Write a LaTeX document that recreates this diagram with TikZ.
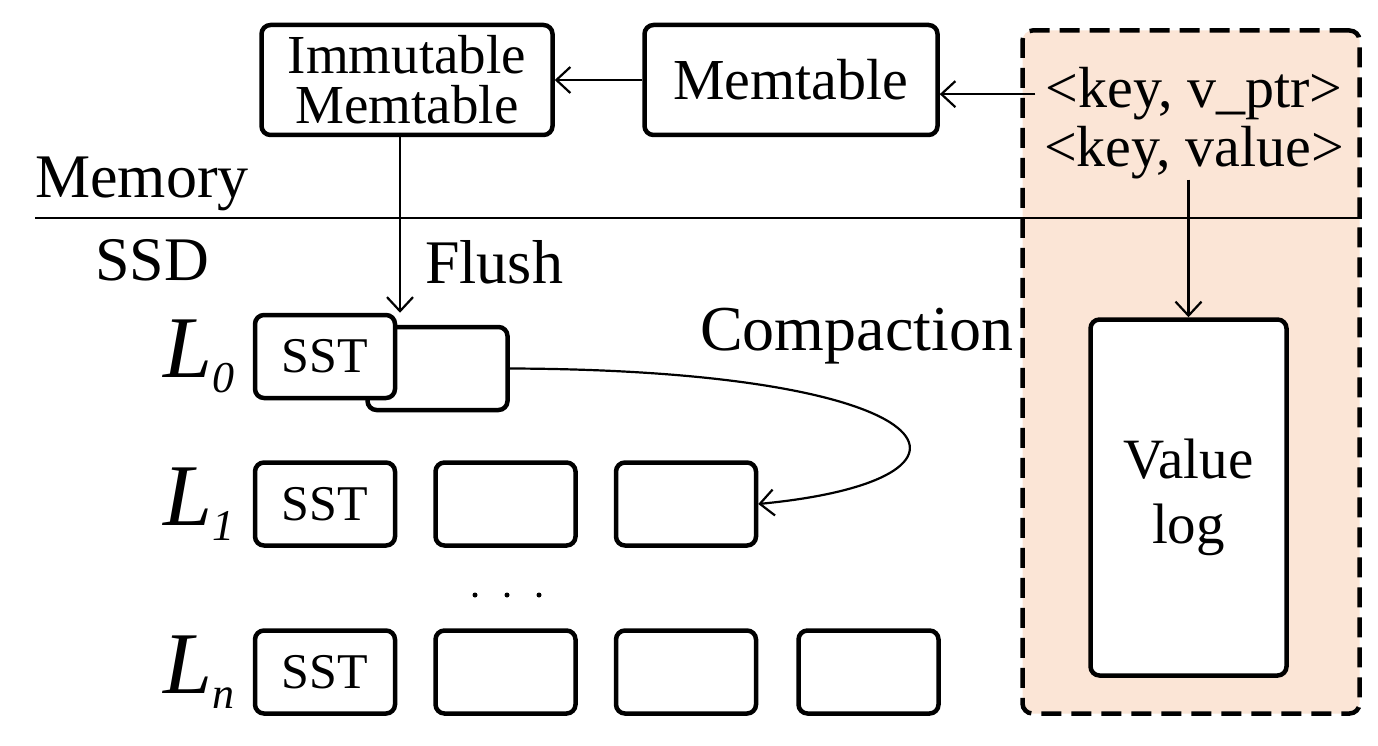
\documentclass[tikz,border=0pt]{standalone}
\usepackage{fontspec}
\setmainfont{Liberation Serif}
\usetikzlibrary{positioning,arrows.meta}
\definecolor{peach}{HTML}{FBE5D6}
\newcommand{\lev}[1]{\textit{L\raisebox{-15pt}{\fontsize{44}{44}\selectfont #1}}}

\begin{document}
\begin{tikzpicture}[x=1pt, y=-1pt, >={Straight Barb[length=14pt,width=26pt]},
  box/.style={draw, line width=4.5pt, rounded corners=9pt, fill=white, inner sep=0pt},
  sst/.style={box, minimum width=140pt, minimum height=83pt, font=\fontsize{50}{50}\selectfont},
  lbl/.style={font=\fontsize{62}{62}\selectfont, inner sep=0pt},
  kv/.style={font=\fontsize{58}{58}\selectfont, inner sep=0pt, anchor=base},
  conn/.style={->, line width=2.2pt}]
\useasboundingbox (0,0) rectangle (1378,746);
% value log side
\node (vside) [draw, dash pattern=on 20pt off 10pt, line width=4.5pt, rounded corners=10pt,
  fill=peach, minimum width=337pt, minimum height=683pt] at (1191,372) {};
\node (vlog) [box, minimum width=196pt, minimum height=356pt, align=center,
  font=\fontsize{57}{65}\selectfont] at (1188.5,497.5) {Value\\log};
\node (kptr) [kv] at (1194,108) {<key, v\_ptr>};
\node (kval) [kv] at (1194,167) {<key, value>};
% memory
\node (imm) [box, minimum width=291pt, minimum height=110pt, align=center,
  font=\fontsize{55}{50}\selectfont] at (407,80) {Immutable\\Memtable};
\node (mem) [box, minimum width=293pt, minimum height=110pt,
  font=\fontsize{58}{58}\selectfont] at (791,80) {Memtable};
\draw[line width=1.5pt] (35,218) -- (1362,218);
\node (memory) [lbl, anchor=base west] at (35,197) {Memory};
\node (ssd) [lbl, anchor=base west] at (95,280) {SSD};
\node (flush) [lbl, anchor=base west] at (425,283) {Flush};
\node (compact) [lbl, font=\fontsize{64}{64}\selectfont, anchor=base west] at (700,350) {Compaction};
% levels
\node (sst0b) [sst] at (437.5,368.5) {};
\node (sst0) [sst] at (325,356.5) {SST};
\node (sst1) [sst] at (325,504) {SST};
\node (sst1b) [sst, right=36pt of sst1] {};
\node (sst1c) [sst, right=36pt of sst1b] {};
\node (sstn) [sst] at (325,672) {SST};
\node (sstnb) [sst, right=36pt of sstn] {};
\node (sstnc) [sst, right=36pt of sstnb] {};
\node (sstnd) [sst, right=38pt of sstnc] {};
\foreach \x in {475,507,539} \fill (\x,595) circle (2.5pt);
\node (l0) [lbl, font=\fontsize{88}{88}\selectfont, left=18pt of sst0] {\lev{0}};
\node (l1) [lbl, font=\fontsize{88}{88}\selectfont, left=18pt of sst1] {\lev{1}};
\node (ln) [lbl, font=\fontsize{88}{88}\selectfont, left=18pt of sstn] {\lev{n}};
% arrows
\draw[conn] (mem.west) -- (imm.east);
\draw[conn] ([xshift=-10pt]kptr.west) -- (kptr.west -| mem.east);
\draw[conn] ([xshift=-7pt]imm.south) -- ([xshift=-7pt]imm.south |- sst0.north);
\draw[conn] (kval.south -| vlog.north) -- (vlog.north);
\draw[conn] (sst0b.east) .. controls (960,370) and (1010,480) .. (sst1c.east);
\end{tikzpicture}
\end{document}
